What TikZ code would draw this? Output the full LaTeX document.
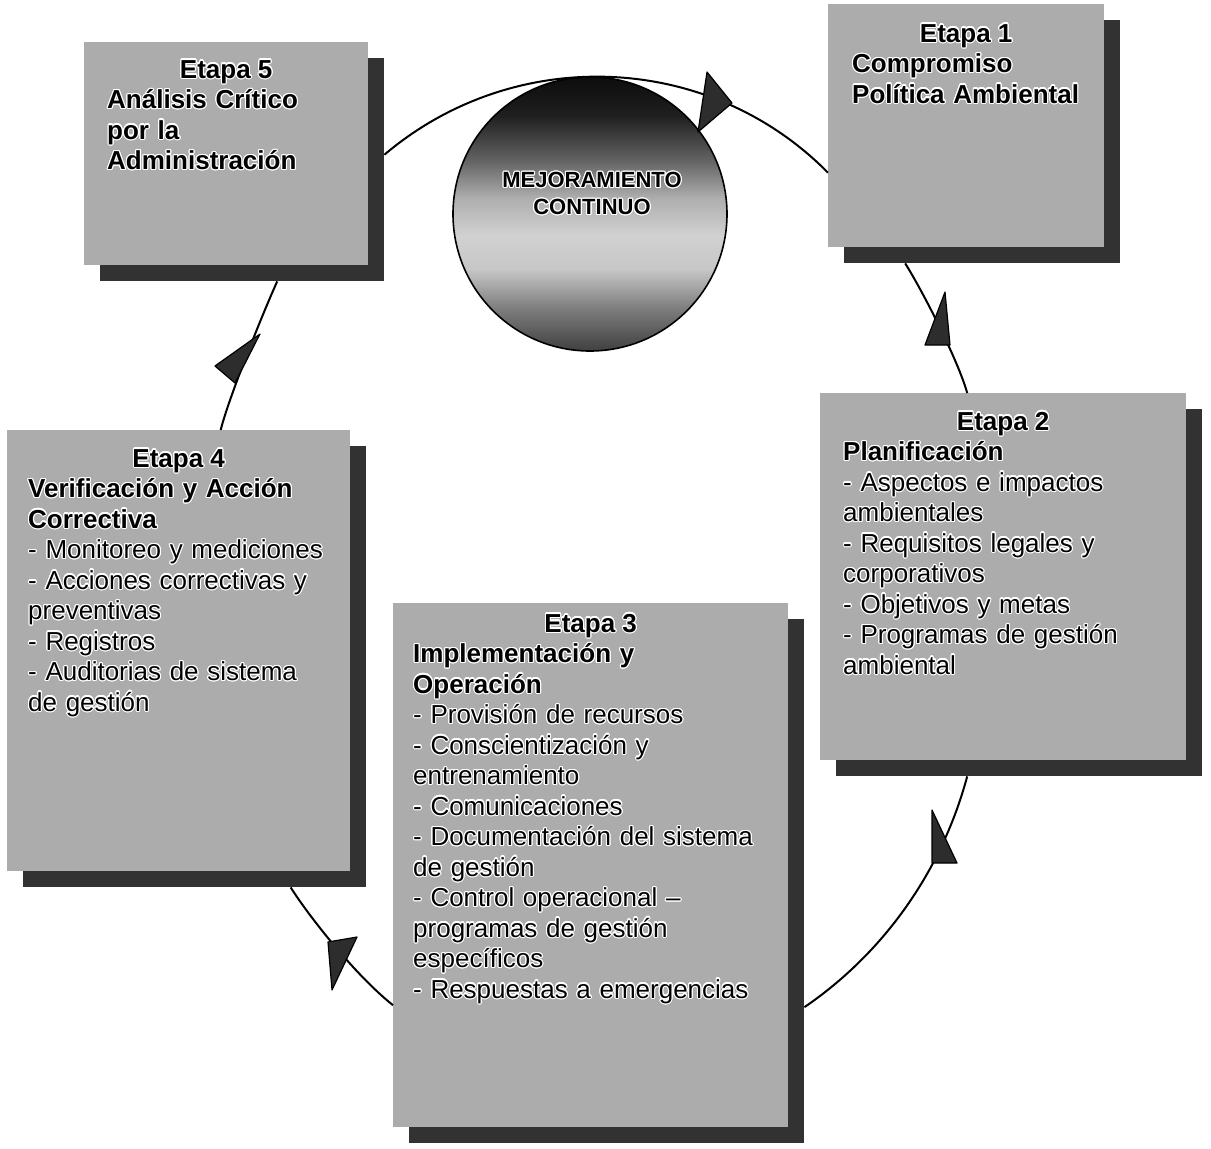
\documentclass[tikz,border=0pt]{standalone}
\usepackage{fontspec}
\setmainfont{Liberation Sans}
\usepackage{contour}
\contourlength{1.1pt}
\usetikzlibrary{calc,shadows}
\definecolor{etapagray}{RGB}{172,172,172}
\definecolor{shadowgray}{RGB}{50,50,50}
\definecolor{headgray}{RGB}{45,45,45}
\newcommand\hl[1]{\contour{white}{#1}}
\pgfdeclareverticalshading{mejora}{100bp}{color(0bp)=(black!75); color(25bp)=(black!75); color(33bp)=(black!50); color(40bp)=(black!22); color(46bp)=(black!18); color(53bp)=(black!32); color(60bp)=(black!62); color(68bp)=(black!88); color(75bp)=(black!95); color(100bp)=(black!95)}

\begin{document}
\begin{tikzpicture}[x=1pt,y=1pt,yscale=-1,
  etapa/.style={fill=etapagray, inner sep=0pt, anchor=north west,
    drop shadow={shadow xshift=16pt, shadow yshift=-16pt, opacity=1, fill=shadowgray}},
  etapatit/.style={anchor=base, inner sep=0pt, font=\fontsize{26}{30.5}\selectfont\bfseries},
  etapatxt/.style={anchor=base west, inner sep=0pt, align=left, text width=#1, font=\fontsize{26}{30.5}\selectfont},
  ciclo/.style={line width=2pt},
  punta/.style={fill=headgray, draw=black, line width=1.2pt, line join=round}]

\useasboundingbox (0,0) rectangle (1211,1149);

% the five stages
\node[etapa, minimum width=284, minimum height=223] (e5) at (84,42) {};
\node[etapa, minimum width=276, minimum height=243] (e1) at (828,4) {};
\node[etapa, minimum width=366, minimum height=367] (e2) at (820,393) {};
\node[etapa, minimum width=395, minimum height=524] (e3) at (393,603) {};
\node[etapa, minimum width=343, minimum height=441] (e4) at (7,430) {};

\node[etapatit] (e5t) at ($(e5.north)+(0,36)$) {\hl{Etapa 5}};
\node[etapatxt=255] (e5b) at ($(e5.north west)+(23,66.5)$) {\bfseries \hl{Análisis Crítico}\\\hl{por la}\\\hl{Administración}};

\node[etapatit] (e1t) at ($(e1.north)+(0,38)$) {\hl{Etapa 1}};
\node[etapatxt=245] (e1b) at ($(e1.north west)+(24,68.5)$) {\bfseries \hl{Compromiso}\\\hl{Política Ambiental}};

\node[etapatit] (e2t) at ($(e2.north)+(0,37)$) {\hl{Etapa 2}};
\node[etapatxt=335] (e2b) at ($(e2.north west)+(23,67.5)$) {\textbf{\hl{Planificación}}\\\hl{- Aspectos e impactos}\\\hl{ambientales}\\\hl{- Requisitos legales y}\\\hl{corporativos}\\\hl{- Objetivos y metas}\\\hl{- Programas de gestión}\\\hl{ambiental}};

\node[etapatit] (e3t) at ($(e3.north)+(0,29)$) {\hl{Etapa 3}};
\node[etapatxt=370] (e3b) at ($(e3.north west)+(20,59.5)$) {\textbf{\hl{Implementación y}}\\\textbf{\hl{Operación}}\\\hl{- Provisión de recursos}\\\hl{- Conscientización y}\\\hl{entrenamiento}\\\hl{- Comunicaciones}\\\hl{- Documentación del sistema}\\\hl{de gestión}\\\hl{- Control operacional –}\\\hl{programas de gestión}\\\hl{específicos}\\\hl{- Respuestas a emergencias}};

\node[etapatit] (e4t) at ($(e4.north)+(0,37)$) {\hl{Etapa 4}};
\node[etapatxt=318] (e4b) at ($(e4.north west)+(21,67.5)$) {\textbf{\hl{Verificación y Acción}}\\\textbf{\hl{Correctiva}}\\\hl{- Monitoreo y mediciones}\\\hl{- Acciones correctivas y}\\\hl{preventivas}\\\hl{- Registros}\\\hl{- Auditorias de sistema}\\\hl{de gestión}};

% centre
\node[circle, inner sep=0pt, minimum size=274, shading=mejora, draw, line width=1.6pt] (mc) at (590,214) {};
\node[inner sep=0pt, align=center, font=\fontsize{22}{27}\selectfont\bfseries] (mctxt) at (592,194) {\hl{MEJORAMIENTO}\\\hl{CONTINUO}};

% cycle
\draw[ciclo] ($(e5.east)+(16,1)$) .. controls (515,44) and (709,52) .. ($(e1.west)+(0,47)$);
\draw[ciclo] ($(e1.south)+(-61,16)$) .. controls (922,290) and (958,360) .. ($(e2.north)+(-36,0)$);
\draw[ciclo] ($(e2.south)+(-36,16)$) .. controls (942,870) and (885,952) .. ($(e3.east)+(16,142)$);
\draw[ciclo] ($(e4.south)+(112,16)$) .. controls (308,915) and (355,975) .. ($(e3.west)+(0,140)$);
\draw[ciclo] ($(e4.north)+(42,0)$) .. controls (228,400) and (262,315) .. ($(e5.south)+(51,16)$);

\draw[punta] (707,72) -- (732,103) -- (698,132) -- cycle;
\draw[punta] (945,292) -- (950,345) -- (925,345) -- cycle;
\draw[punta] (932,810) -- (957,863) -- (932,863) -- cycle;
\draw[punta] (357,937) -- (332,990) -- (328,942) -- cycle;
\draw[punta] (260,334) -- (235,383) -- (215,366) -- cycle;
\end{tikzpicture}
\end{document}
